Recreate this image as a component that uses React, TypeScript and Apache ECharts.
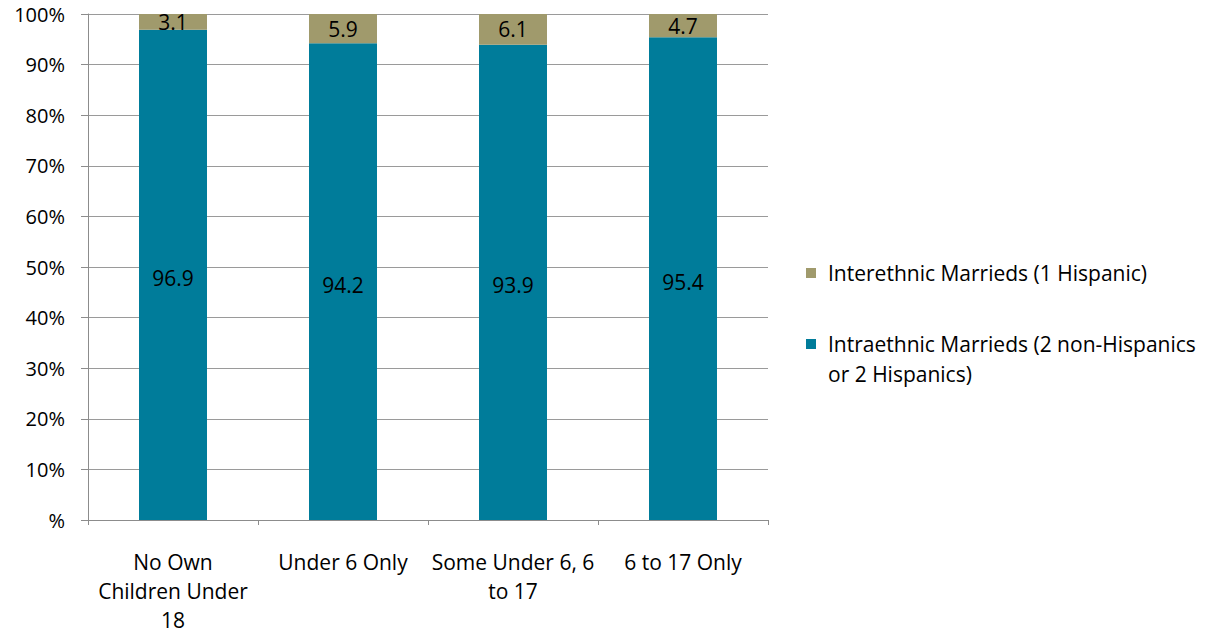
import React, { useEffect, useRef } from "react";
import * as echarts from "echarts";

const categories = ["No Own\nChildren Under\n18", "Under 6 Only", "Some Under 6, 6\nto 17", "6 to 17 Only"];
const intraValues = [96.9, 94.2, 93.9, 95.4];
const interValues = [3.1, 5.9, 6.1, 4.7];
const seriesNames = ["Intraethnic Marrieds (2 non-Hispanics\nor 2 Hispanics)", "Interethnic Marrieds (1 Hispanic)"];

const FONT = "Open Sans";
const FS = 21;

export default function App() {
  const ref = useRef<HTMLDivElement>(null);
  useEffect(() => {
    if (!ref.current) return;
    const chart = echarts.init(ref.current, undefined, { renderer: "svg" });
    chart.setOption({
      animation: false,
      textStyle: { fontFamily: FONT },
      grid: { left: 88, right: 443, top: 14, bottom: 113, containLabel: false },
      legend: {
        orient: "vertical",
        left: 801,
        top: 253,
        itemGap: 11,
        icon: "rect",
        itemWidth: 10,
        itemHeight: 10,
        data: [seriesNames[1], seriesNames[0]],
        formatter: (name: string) => (name.indexOf("\n") >= 0 ? "\u00a0\n" + name : name),
        textStyle: { fontFamily: FONT, fontSize: FS, color: "#000", lineHeight: 30, padding: [0, 0, 0, 7] },
        selectedMode: false,
      },
      xAxis: {
        type: "category",
        data: categories,
        axisLine: { lineStyle: { color: "#8c8c8c", width: 1 } },
        axisTick: { show: true, length: 5, lineStyle: { color: "#8c8c8c" } },
        axisLabel: { fontFamily: FONT, fontSize: FS, color: "#000", lineHeight: 29, margin: 27, interval: 0 },
      },
      yAxis: {
        type: "value",
        min: 0,
        max: 100,
        interval: 10,
        axisLine: { show: true, lineStyle: { color: "#8c8c8c" } },
        axisTick: { show: true, length: 7, inside: false, lineStyle: { color: "#8c8c8c" } },
        splitLine: { lineStyle: { color: "#9a9a9a", width: 1 } },
        axisLabel: {
          fontFamily: FONT,
          fontSize: 20,
          color: "#000",
          margin: 23,
          formatter: (v: number) => (v === 0 ? "%" : v + "%"),
        },
      },
      series: [
        {
          name: seriesNames[0],
          type: "bar",
          stack: "total",
          barWidth: 68,
          data: intraValues,
          itemStyle: { color: "#007C9A" },
          label: { show: true, position: "inside", fontFamily: FONT, fontSize: FS, color: "#000", offset: [0, 3] },
        },
        {
          name: seriesNames[1],
          type: "bar",
          stack: "total",
          barWidth: 68,
          data: interValues,
          itemStyle: { color: "#A09A6C" },
          label: { show: true, position: "inside", fontFamily: FONT, fontSize: FS, color: "#000" },
        },
      ],
    });
    return () => chart.dispose();
  }, []);
  return <div ref={ref} style={{ position: "absolute", left: 0, top: 0, width: 1211, height: 634 }} />;
}
